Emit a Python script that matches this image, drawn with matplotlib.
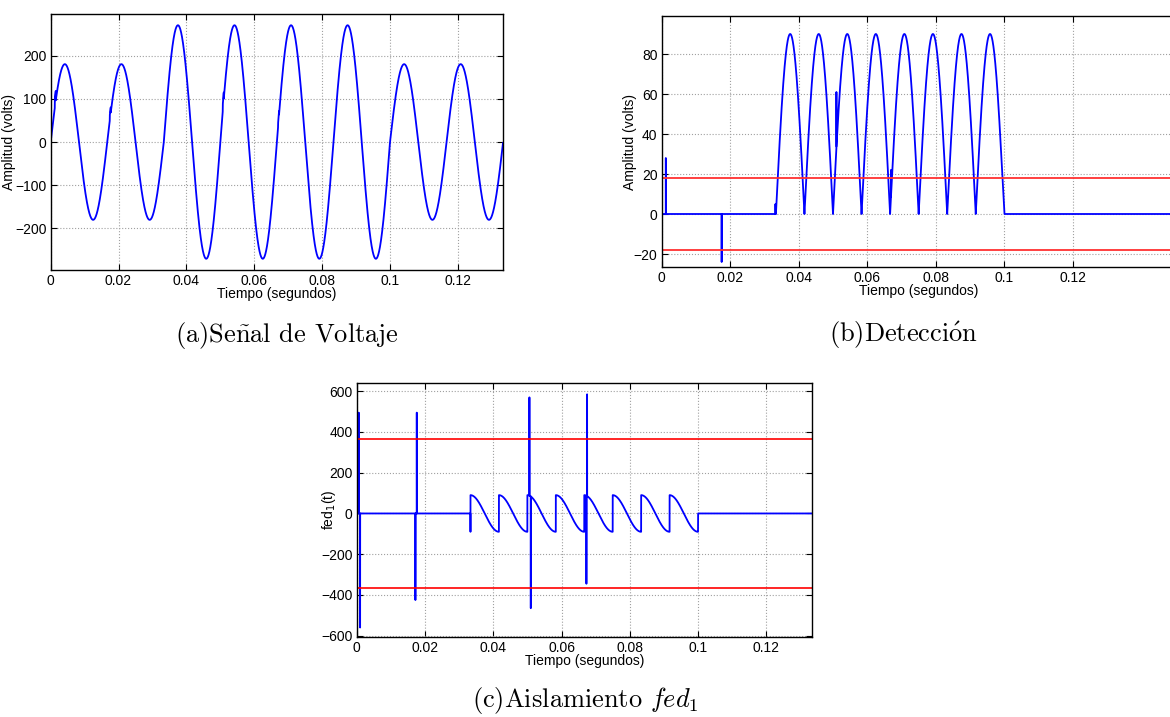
import numpy as np
import matplotlib
matplotlib.use('Agg')
import matplotlib.pyplot as plt

# ---- values ----
f0 = 60.0                      # Hz
t_end = 0.1333                 # seconds shown in (a) and (c)
t_end_b = 0.15                 # (b) is cut by the page edge
cycle_amp = [180, 180, 270, 270, 270, 270, 180, 180]   # voltage peak of each cycle
ref_amp = 180                  # nominal peak

# small glitches on the voltage trace
glitch_t = [0.0012, 0.0174, 0.0507, 0.0670]
glitch_dv = [22, 12, 15, 8]

# detection spikes
det_spike_t = [0.0012, 0.0175, 0.0332, 0.0510, 0.0669]
det_spike_v = [28, -24, 5, 61, 22]
det_thr = 18

# fed_1 spikes (up / down)
fed_up_t = [0.0006, 0.0176, 0.0506, 0.0675]
fed_up_v = [495, 495, 570, 585]
fed_dn_t = [0.0010, 0.0172, 0.0510, 0.0673]
fed_dn_v = [-560, -425, -465, -345]
fed_thr = 366

xticks = [0, 0.02, 0.04, 0.06, 0.08, 0.1, 0.12]
xticklabels = ['0', '0.02', '0.04', '0.06', '0.08', '0.1', '0.12']

# ---- build the traces ----
t = np.linspace(0, t_end_b, 22501)
k = np.minimum((t * f0).astype(int), len(cycle_amp) - 1)
s = np.sin(2 * np.pi * f0 * t)
v = np.array(cycle_amp)[k] * s
det = np.abs(v) - ref_amp * np.abs(s)
fed = np.gradient(det, t) / (2 * np.pi * f0)
fed[np.abs(det) < 1e-9] = 0
fed[t < 1/30 - 1e-5] = 0
fed[t > 0.1 + 1e-5] = 0
i0 = np.argmin(np.abs(t - 1/30))
fed[i0] = -90

for tg, dv in zip(glitch_t, glitch_dv):
    m = (t >= tg) & (t < tg + 0.0003)
    v[m] += dv
for ts, val in zip(det_spike_t, det_spike_v):
    det[np.argmin(np.abs(t - ts))] = val
for ts, val in zip(fed_up_t, fed_up_v):
    fed[np.argmin(np.abs(t - ts))] = val
for ts, val in zip(fed_dn_t, fed_dn_v):
    fed[np.argmin(np.abs(t - ts))] = val

plt.rcParams['font.family'] = ['Liberation Sans', 'DejaVu Sans']
plt.rcParams['font.size'] = 9.5

fig = plt.figure(figsize=(11.7, 7.17), dpi=100)


def style(ax, xmax):
    ax.set_xlim(0, xmax)
    ax.set_xticks(xticks)
    ax.set_xticklabels(xticklabels)
    ax.tick_params(direction='in', length=4, width=0.8, top=True, right=True,
                   labelsize=10, pad=3)
    ax.grid(True, linestyle=':', color='#a0a0a0', linewidth=0.8)
    for sp in ax.spines.values():
        sp.set_linewidth(1.0)
    ax.set_xlabel('Tiempo (segundos)', fontsize=10, labelpad=-1)


W, H = 1170, 717
def box(l, r, top, bot):
    return [l / W, 1 - bot / H, (r - l) / W, (bot - top) / H]

ta = t <= t_end

# (a)
ax1 = fig.add_axes(box(50.7, 503, 14, 270))
ax1.plot(t[ta], v[ta], color='b', lw=1.3)
style(ax1, t_end)
ax1.set_ylim(-296, 296)
ax1.set_yticks([-200, -100, 0, 100, 200])
ax1.set_ylabel('Amplitud (volts)', fontsize=10, labelpad=-0.5)

# (b)
ax2 = fig.add_axes(box(661.7, 661.7 + t_end_b * 3426, 16, 267))
ax2.plot(t, det, color='b', lw=1.3)
ax2.axhline(det_thr, color='#ff3030', lw=1.3)
ax2.axhline(-det_thr, color='#ff3030', lw=1.3)
style(ax2, t_end_b)
ax2.set_ylim(-26.5, 99)
ax2.set_yticks([-20, 0, 20, 40, 60, 80])
ax2.set_ylabel('Amplitud (volts)', fontsize=10, labelpad=-2.5)

# (c)
ax3 = fig.add_axes(box(356.7, 811.7, 382.7, 637.3))
ax3.plot(t[ta], fed[ta], color='b', lw=1.3)
ax3.axhline(fed_thr, color='r', lw=1.2)
ax3.axhline(-fed_thr, color='r', lw=1.2)
style(ax3, t_end)
ax3.set_ylim(-608, 642)
ax3.set_yticks([-600, -400, -200, 0, 200, 400, 600])
ax3.set_ylabel('fed$_1$(t)', fontsize=10, labelpad=-12)

cap = dict(family=['cmr10', 'DejaVu Serif'], fontsize=19, ha='center', va='center',
           math_fontfamily='cm')
fig.text(287 / W, 1 - 335 / H, '(a)Se$\\tilde{\\mathrm{n}}$al de Voltaje', **cap)
fig.text(904 / W, 1 - 335 / H, '(b)Detecci$\\acute{\\mathrm{o}}$n', **cap)
fig.text(585 / W, 1 - 700 / H, '(c)Aislamiento $fed_1$', **cap)

fig.savefig('out.png', dpi=100)
